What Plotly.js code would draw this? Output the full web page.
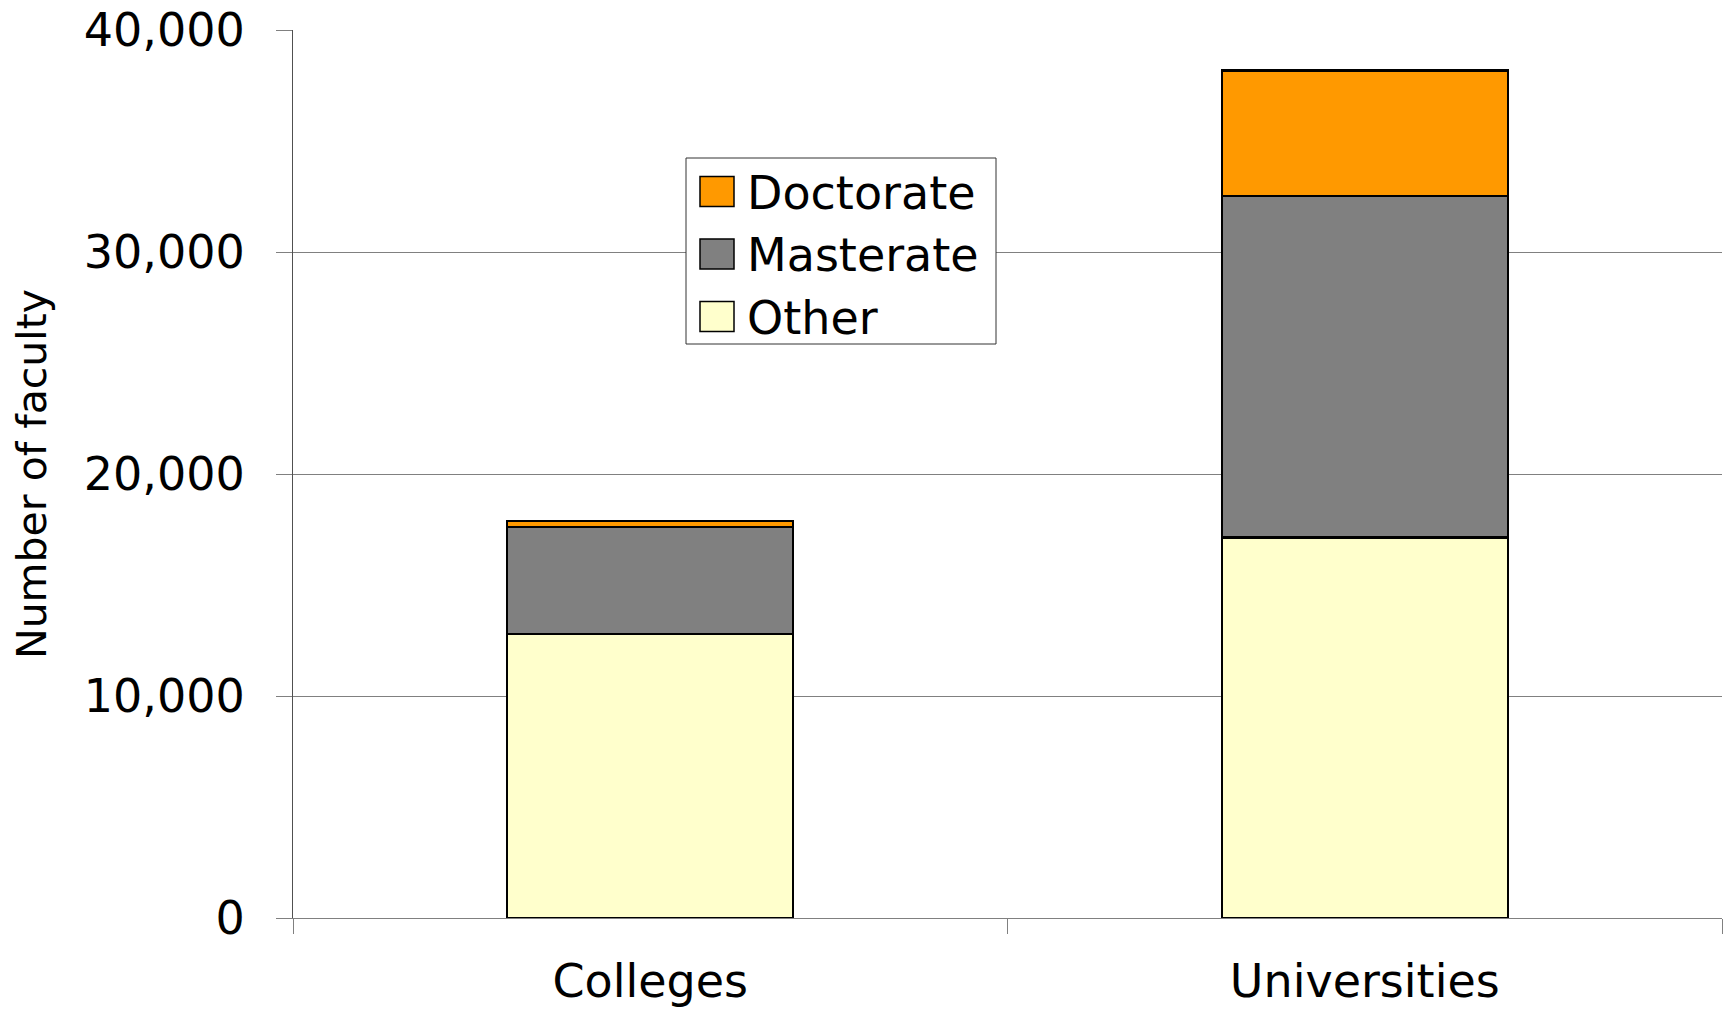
<!DOCTYPE html>
<html>
<head>
<meta charset="utf-8">
<script src="https://cdn.plot.ly/plotly-3.0.1.min.js"></script>
<style>
html,body{margin:0;padding:0;background:#fff;}
#chart{width:1728px;height:1010px;}
</style>
</head>
<body>
<div id="chart"></div>
<script>
// ---- data ----
var categories = ["Colleges", "Universities"];
var seriesNames = ["Other", "Masterate", "Doctorate"];
var otherValues = [12790, 17140];
var masterateValues = [4830, 15400];
var doctorateValues = [270, 5640];
var seriesColors = ["#FFFFCC", "#808080", "#FF9900"];
var yTickValues = [0, 10000, 20000, 30000, 40000];
var yTitle = "Number of faculty";

var seriesValues = [otherValues, masterateValues, doctorateValues];

var FONT = "DejaVu Sans, Liberation Sans, Arial, sans-serif";
var W = 1728, H = 1010;
var M = {l: 293, r: 6, t: 30, b: 92};

var traces = seriesNames.map(function (name, i) {
  return {
    type: "bar",
    name: name,
    x: categories,
    y: seriesValues[i],
    marker: {color: seriesColors[i], line: {color: "#000000", width: 2.2}},
    showlegend: false,
    hoverinfo: "x+y+name"
  };
});

// custom legend (Doctorate, Masterate, Other from top)
function px2x(px) { return (px - M.l) / (W - M.l - M.r); }
function py2y(py) { return (H - M.b - py) / (H - M.t - M.b); }

var shapes = [{
  type: "rect", xref: "paper", yref: "paper",
  x0: px2x(686), x1: px2x(996), y0: py2y(344), y1: py2y(158),
  line: {color: "#333333", width: 1}, fillcolor: "#ffffff", layer: "above"
}];
var annotations = [];
var legendOrder = [2, 1, 0];
legendOrder.forEach(function (si, row) {
  var cy = 191.5 + row * 62.5;
  shapes.push({
    type: "rect", xref: "paper", yref: "paper",
    x0: px2x(700), x1: px2x(734), y0: py2y(cy + 15), y1: py2y(cy - 15),
    line: {color: "#000000", width: 1.5}, fillcolor: seriesColors[si], layer: "above"
  });
  annotations.push({
    xref: "paper", yref: "paper", x: px2x(745), y: py2y(cy + 1),
    xanchor: "left", yanchor: "middle", showarrow: false,
    text: seriesNames[si], font: {family: FONT, size: 46, color: "#000000"}
  });
});

var layout = {
  width: W, height: H,
  margin: M,
  paper_bgcolor: "#ffffff",
  plot_bgcolor: "#ffffff",
  barmode: "stack",
  bargap: 0.6,
  showlegend: false,
  font: {family: FONT, color: "#000000"},
  xaxis: {
    type: "category",
    tickson: "boundaries",
    ticks: "outside",
    ticklen: 15,
    tickcolor: "#808080",
    tickwidth: 1,
    showline: true,
    linecolor: "#808080",
    linewidth: 1,
    showgrid: false,
    zeroline: false,
    tickfont: {family: FONT, size: 46, color: "#000000"},
    ticklabelstandoff: 23
  },
  yaxis: {
    range: [0, 40000],
    tickvals: yTickValues,
    tickformat: ",d",
    ticks: "outside",
    ticklen: 16,
    tickcolor: "#808080",
    tickwidth: 1,
    showline: true,
    linecolor: "#505050",
    linewidth: 1,
    showgrid: true,
    gridcolor: "#808080",
    gridwidth: 1,
    zeroline: false,
    tickfont: {family: FONT, size: 46, color: "#000000"},
    ticklabelstandoff: 22,
    title: {text: yTitle, font: {family: FONT, size: 41, color: "#000000"}, standoff: 24}
  },
  shapes: shapes,
  annotations: annotations
};

Plotly.newPlot("chart", traces, layout, {displayModeBar: false, staticPlot: true});
</script>
</body>
</html>
